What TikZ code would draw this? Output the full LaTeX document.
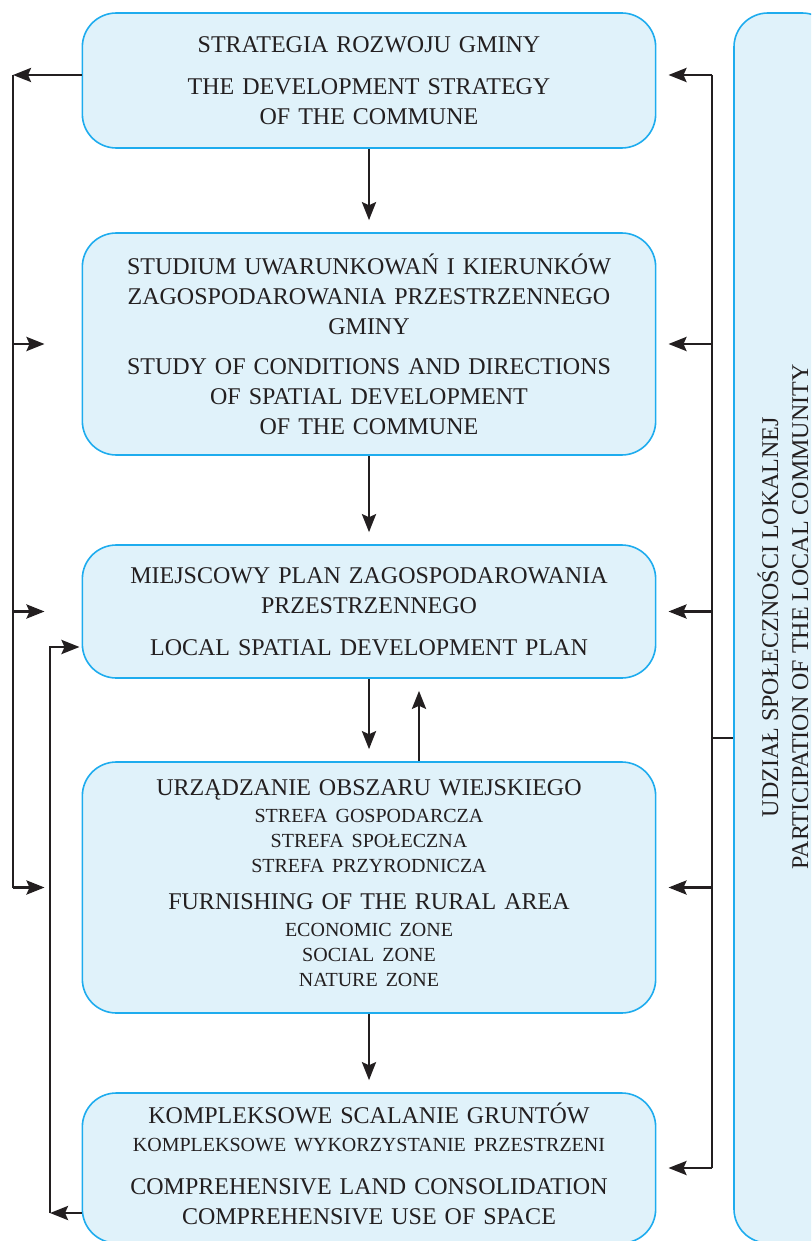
\documentclass[tikz,border=0pt]{standalone}
\usepackage{fontspec}
\setmainfont{Liberation Serif}
\usetikzlibrary{arrows.meta}

\definecolor{ramka}{RGB}{30,172,238}
\definecolor{tlo}{RGB}{224,242,250}
\definecolor{linia}{RGB}{35,31,32}

\newcommand{\duzy}{\fontsize{12}{15}\selectfont}
\newcommand{\maly}{\fontsize{10}{12.5}\selectfont}

\tikzset{
    blok/.style={draw=ramka, fill=tlo, line width=0.8pt, rounded corners=17pt,
        align=center, text width=280pt, minimum width=284pt, font=\duzy, text=linia},
    strzalka/.style={-{Stealth[length=9pt,width=7pt,inset=1.5pt]}, line width=1.4pt, draw=linia},
    laczenie/.style={line width=1.4pt, draw=linia}
}

\begin{document}
\begin{tikzpicture}[x=0.5pt,y=-0.5pt]
        \clip (0,0) rectangle (811,1241);

        % ~~~~ Bloki ~~~~%
        \node[blok, minimum height=67.5pt] (strategia) at (369,80.5)
            {STRATEGIA ROZWOJU GMINY\\[6pt]
             THE DEVELOPMENT STRATEGY\\ OF THE COMMUNE};
        \node[blok, minimum height=111pt] (studium) at (369,344)
            {STUDIUM UWARUNKOWAŃ I KIERUNKÓW\\ ZAGOSPODAROWANIA PRZESTRZENNEGO\\ GMINY\\[5pt]
             STUDY OF CONDITIONS AND DIRECTIONS\\ OF SPATIAL DEVELOPMENT\\ OF THE COMMUNE};
        \node[blok, minimum height=66.5pt] (plan) at (369,611.5)
            {MIEJSCOWY PLAN ZAGOSPODAROWANIA\\ PRZESTRZENNEGO\\[6pt]
             LOCAL SPATIAL DEVELOPMENT PLAN};
        \node[blok, minimum height=125.5pt] (urzadzanie) at (369,887.5)
            {URZĄDZANIE OBSZARU WIEJSKIEGO\\[1pt]
             \maly STREFA GOSPODARCZA\\ STREFA SPOŁECZNA\\ STREFA PRZYRODNICZA\\[3.5pt]
             \duzy FURNISHING OF THE RURAL AREA\\[1pt]
             \maly ECONOMIC ZONE\\ SOCIAL ZONE\\[-2.5pt] NATURE ZONE\rule[-4pt]{0pt}{4pt}};
        \node[blok, minimum height=75pt] (scalanie) at (369,1168)
            {KOMPLEKSOWE SCALANIE GRUNTÓW\\[1.5pt]
             \maly KOMPLEKSOWE WYKORZYSTANIE PRZESTRZENI\\[6.5pt]
             \duzy COMPREHENSIVE LAND CONSOLIDATION\\ COMPREHENSIVE USE OF SPACE\rule[-4pt]{0pt}{4pt}};
        \node[blok, text width=, minimum width=51pt, minimum height=615pt] (udzial) at (785,628) {};
        \node[rotate=90, align=center, font=\duzy, text=linia] (udzialtekst) at (783,617)
            {UDZIAŁ SPOŁECZNOŚCI LOKALNEJ\\ PARTICIPATION OF THE LOCAL COMMUNITY};

        % ~~~~ Punkty linii ~~~~%
        \coordinate (lewaG) at (13,75);
        \coordinate (lewaD) at (13,888);
        \coordinate (prawaG) at (712,75);
        \coordinate (prawaD) at (712,1168);
        \coordinate (wezel) at (712,738);
        \coordinate (petla) at (50,1213);
        \coordinate (petlaG) at (50,647);

        % ~~~~ Strzalki w dol ~~~~%
        \draw[strzalka, shorten >=6pt] (strategia.south) -- (studium.north);
        \draw[strzalka, shorten >=6pt] (studium.south) -- (plan.north);
        \draw[strzalka, shorten >=6pt] (plan.south) -- (urzadzanie.north);
        \draw[strzalka, shorten >=6pt] ([xshift=25pt]urzadzanie.north) -- ([xshift=25pt]plan.south);
        \draw[strzalka, shorten >=6pt] (urzadzanie.south) -- (scalanie.north);

        % ~~~~ Lewa strona ~~~~%
        \draw[strzalka] (strategia.west |- lewaG) -- (lewaG);
        \draw[laczenie] (lewaG) -- (lewaD);
        \foreach \b in {studium,plan,urzadzanie}
            \draw[strzalka, shorten >=18.5pt] (lewaG |- \b.west) -- (\b.west);
        \draw[strzalka] (scalanie.west |- petla) -- (petla);
        \draw[strzalka, shorten >=1pt] (petla) -- (petlaG) -- (plan.west |- petlaG);

        % ~~~~ Prawa strona ~~~~%
        \draw[laczenie] (prawaG) -- (prawaD);
        \draw[laczenie] (wezel) -- (udzial.west |- wezel);
        \draw[strzalka, shorten >=6pt] (prawaG) -- (strategia.east |- prawaG);
        \foreach \b in {studium,plan,urzadzanie,scalanie}
            \draw[strzalka, shorten >=6pt] (prawaG |- \b.east) -- (\b.east);
\end{tikzpicture}
\end{document}
